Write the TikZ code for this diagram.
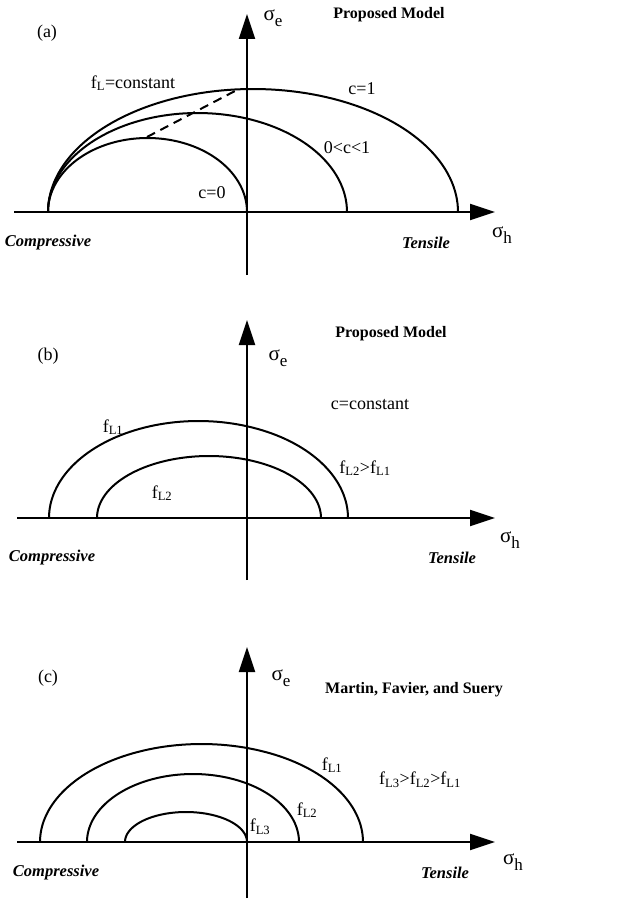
\documentclass[tikz,border=0pt]{standalone}
\usepackage{fontspec}
\setmainfont{Liberation Serif}
\usetikzlibrary{arrows.meta}
\tikzset{
    axis/.style={line width=2pt, -{Triangle[length=25pt,width=16pt]}},
    curve/.style={line width=2pt},
    lbl/.style={inner sep=0pt, font=\fontsize{18}{20}\selectfont},
    title/.style={lbl, font=\fontsize{16}{18}\selectfont\bfseries},
    side/.style={lbl, font=\fontsize{16.5}{18}\selectfont\bfseries\itshape},
    sym/.style={lbl, font=\fontsize{21}{22}\selectfont}
}
\newcommand\sig[1]{σ\raisebox{-6pt}{\fontsize{17}{18}\selectfont #1}}
\newcommand\fl[1]{f\textsubscript{L#1}}

\begin{document}
\begin{tikzpicture}[x=1pt, y=-1pt]
    \useasboundingbox (0,0) rectangle (627,899);

    % (a)
    \coordinate (a-w) at (14,212);  \coordinate (a-e) at (495,212);
    \coordinate (a-s) at (247,275); \coordinate (a-n) at (247,14);
    \draw[axis] (a-w) -- (a-e);
    \draw[axis] (a-s) -- (a-n);
    \foreach \cx/\rx/\ry in {253/205/123, 197.5/149.5/99, 147.5/99.5/74}
        \draw[curve] plot[domain=180:0, samples=90] ({\cx+\rx*cos(\x)}, {212-\ry*sin(\x)});
    \coordinate (a-low) at (147,137); \coordinate (a-high) at (235,91);
    \draw[curve, dash pattern=on 9pt off 6pt] (a-low) -- (a-high);
    \node[lbl] (a-tag) at (47,33) {(a)};
    \node[title] (a-title) at (389,15) {Proposed Model};
    \node[sym] (a-se) at (273,18) {\sig{e}};
    \node[sym] (a-sh) at (502,235) {\sig{h}};
    \node[lbl] (a-fl) at (133,83) {f\textsubscript{L}=constant};
    \node[lbl] (a-one) at (362,89) {c=1};
    \node[lbl] (a-mid) at (347,148) {0<c<1};
    \node[lbl] (a-zero) at (212,193) {c=0};
    \node[side] (a-comp) at (48,243) {Compressive};
    \node[side] (a-tens) at (426,243) {Tensile};

    % (b)
    \coordinate (b-w) at (17,518);  \coordinate (b-e) at (495,518);
    \coordinate (b-s) at (247,580); \coordinate (b-n) at (247,320);
    \draw[axis] (b-w) -- (b-e);
    \draw[axis] (b-s) -- (b-n);
    \foreach \cx/\rx/\ry in {198.5/149.5/97, 209/112/62}
        \draw[curve] plot[domain=180:0, samples=90] ({\cx+\rx*cos(\x)}, {518-\ry*sin(\x)});
    \node[lbl] (b-tag) at (48,356) {(b)};
    \node[title] (b-title) at (391,334) {Proposed Model};
    \node[sym] (b-se) at (278,358) {\sig{e}};
    \node[sym] (b-sh) at (510,540) {\sig{h}};
    \node[lbl] (b-c) at (370,405) {c=constant};
    \node[lbl] (b-one) at (113,427) {\fl1};
    \node[lbl] (b-two) at (162,493) {\fl2};
    \node[lbl] (b-rel) at (365,468) {\fl2>\fl1};
    \node[side] (b-comp) at (52,558) {Compressive};
    \node[side] (b-tens) at (452,558) {Tensile};

    % (c)
    \coordinate (c-w) at (17,842);  \coordinate (c-e) at (495,842);
    \coordinate (c-s) at (247,898); \coordinate (c-n) at (247,647);
    \draw[axis] (c-w) -- (c-e);
    \draw[axis] (c-s) -- (c-n);
    \foreach \cx/\rx/\ry in {201.5/161.5/98, 193/106/68, 186/61/30}
        \draw[curve] plot[domain=180:0, samples=90] ({\cx+\rx*cos(\x)}, {842-\ry*sin(\x)});
    \node[lbl] (c-tag) at (48,678) {(c)};
    \node[title] (c-title) at (414,690) {Martin, Favier, and Suery};
    \node[sym] (c-se) at (281,678) {\sig{e}};
    \node[sym] (c-sh) at (513,862) {\sig{h}};
    \node[lbl] (c-one) at (332,765) {\fl1};
    \node[lbl] (c-two) at (307,810) {\fl2};
    \node[lbl] (c-three) at (260,827) {\fl3};
    \node[lbl] (c-rel) at (420,780) {\fl3>\fl2>\fl1};
    \node[side] (c-comp) at (56,873) {Compressive};
    \node[side] (c-tens) at (445,873) {Tensile};
\end{tikzpicture}
\end{document}
